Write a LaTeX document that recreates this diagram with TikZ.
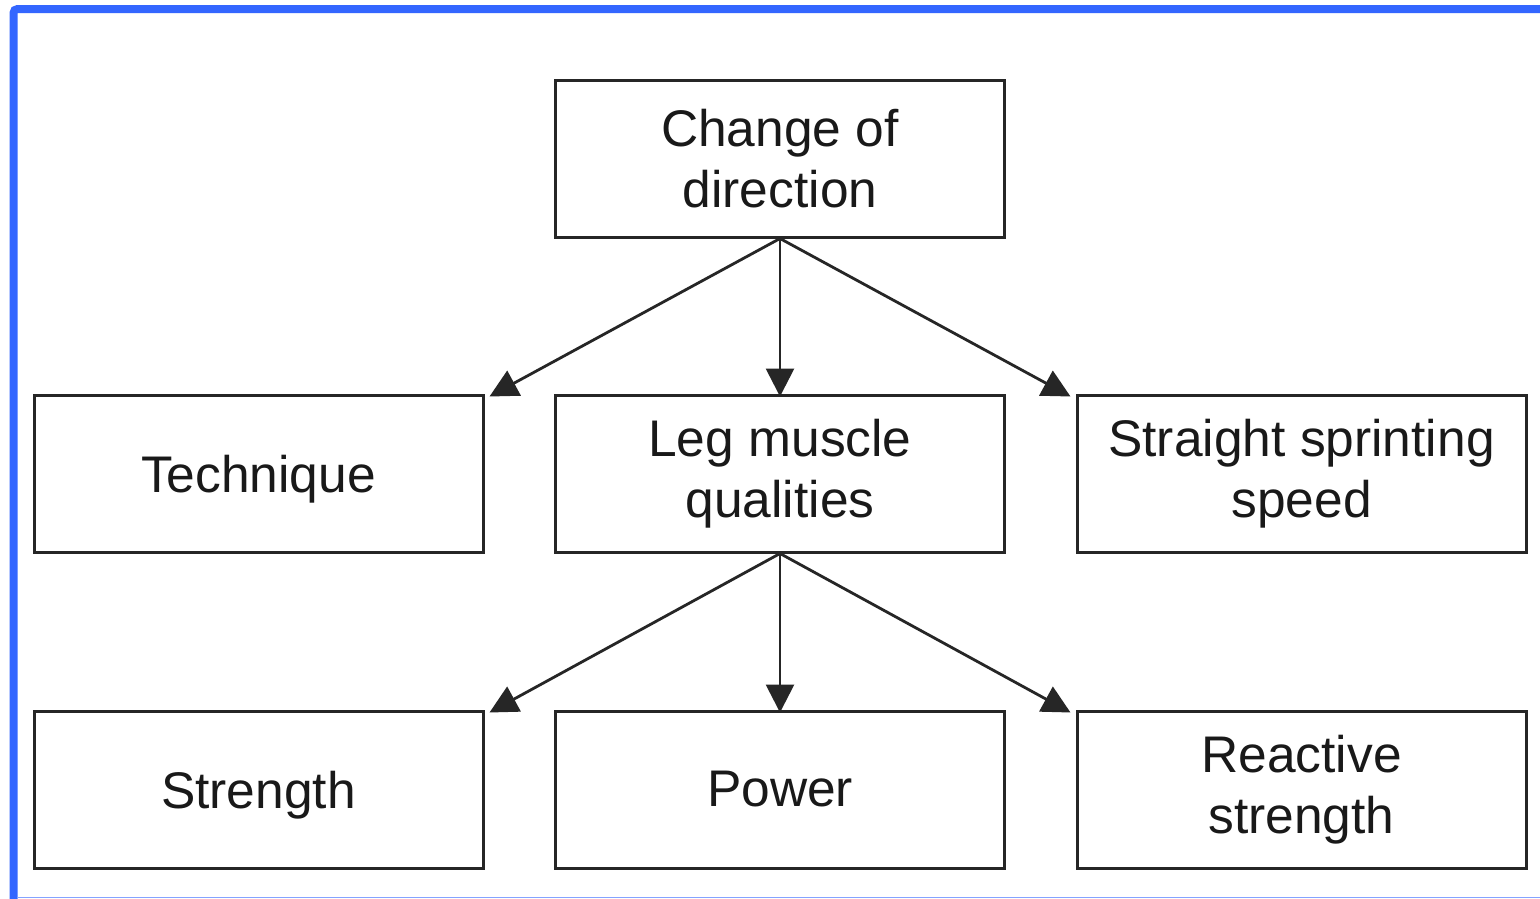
\documentclass[tikz,border=0pt]{standalone}
\usepackage{fontspec}
\setmainfont{Liberation Sans}
\usetikzlibrary{arrows.meta}
\definecolor{frameblue}{HTML}{3366FF}
\definecolor{boxline}{HTML}{262626}
\begin{document}
\begin{tikzpicture}[x=1pt,y=-1pt,
  box/.style={draw=boxline,line width=3pt,minimum width=449pt,minimum height=157pt,
    inner sep=0pt,align=center,font=\fontsize{51.5}{61}\selectfont,text=black!90},
  oneline/.style={box,text depth=0pt},
  link/.style={draw=boxline,line width=2.8pt,-{Triangle[length=28pt,width=28pt]}}]
\useasboundingbox (0,0) rectangle (1540,898);
\fill[white] (0,0) rectangle (1540,898);
% outer frame
\draw[frameblue,line width=8pt,rounded corners=4pt] (13.5,900) -- (13.5,9) -- (1545,9);
\draw[frameblue!60,line width=1.2pt] (17,897.4) -- (1540,897.4);
% boxes
\node[box] (top) at (780,158.5) {Change of\\direction};
\node[oneline] (tech) at (258.5,473.5) {Technique};
\node[box] (leg) at (780,473.5) {Leg muscle\\qualities};
\node[box] (sprint) at (1301.5,473.5) {Straight sprinting\\speed};
\node[oneline] (str) at (258.5,789.5) {Strength};
\node[box] (pow) at (780,789.5) {Power};
\node[box] (react) at (1301.5,789.5) {Reactive\\strength};
% connectors
\draw[link] (top.south) -- ([xshift=5pt,yshift=-3pt]tech.north east);
\draw[link] (top.south) -- ([yshift=-3pt]leg.north);
\draw[link] (top.south) -- ([xshift=-5pt,yshift=-3pt]sprint.north west);
\draw[link] (leg.south) -- ([xshift=5pt,yshift=-3pt]str.north east);
\draw[link] (leg.south) -- ([yshift=-3pt]pow.north);
\draw[link] (leg.south) -- ([xshift=-5pt,yshift=-3pt]react.north west);
\end{tikzpicture}
\end{document}
